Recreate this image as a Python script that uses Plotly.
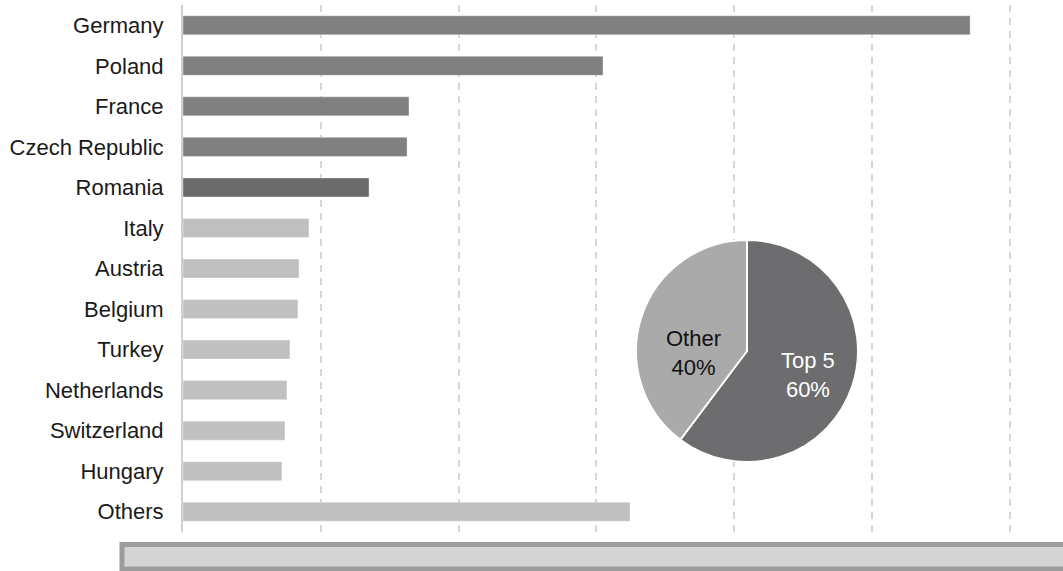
import plotly.graph_objects as go

countries = ["Germany", "Poland", "France", "Czech Republic", "Romania", "Italy",
             "Austria", "Belgium", "Turkey", "Netherlands", "Switzerland", "Hungary", "Others"]
values = [28.56, 15.24, 8.20, 8.13, 6.75, 4.57, 4.21, 4.17, 3.88, 3.77, 3.70, 3.59, 16.22]
bar_colors = ["#808080", "#808080", "#808080", "#808080", "#6b6b6b"] + ["#c0c0c0"] * 8

pie_labels = ["Top 5", "Other"]
pie_values = [sum(values[:5]), sum(values[5:])]
pie_colors = ["#6d6d6f", "#aaaaaa"]
pie_text_colors = ["#ffffff", "#111111"]

W, H = 1063, 571
L, R, T, B = 183, 0, 5, 39
pw, ph = W - L - R, H - T - B
FONT = "Liberation Sans, Arial, sans-serif"

fig = go.Figure()
fig.add_trace(go.Bar(
    y=countries, x=values, orientation="h",
    marker=dict(color=bar_colors, line=dict(color="rgba(255,255,255,0.35)", width=1)),
    width=0.47, hoverinfo="skip", showlegend=False,
))

def px_x(p):
    return (p - L) / pw

def px_y(p):
    return (H - B - p) / ph

fig.add_trace(go.Pie(
    labels=pie_labels, values=pie_values, sort=False, direction="clockwise", rotation=0,
    marker=dict(colors=pie_colors, line=dict(color="white", width=2)),
    textinfo="none",
    domain=dict(x=[px_x(636), px_x(858)], y=[px_y(462), px_y(240)]),
    showlegend=False, hoverinfo="skip",
))

total = sum(pie_values)
label_pos = [(807.5, 374.5), (693.5, 353)]
for lab, val, col, (lx, ly) in zip(pie_labels, pie_values, pie_text_colors, label_pos):
    fig.add_annotation(
        xref="paper", yref="paper", x=px_x(lx), y=px_y(ly),
        text=f"{lab}<br>{100 * val / total:.0f}%", showarrow=False,
        font=dict(family=FONT, size=22, color=col), align="center",
        xanchor="center", yanchor="middle",
    )

fig.add_shape(type="rect", xref="paper", yref="paper",
              x0=px_x(122), x1=px_x(1075), y0=px_y(569), y1=px_y(544.5),
              line=dict(color="#9c9c9c", width=5), fillcolor="#d4d4d4", layer="above")

fig.update_layout(
    width=W, height=H,
    margin=dict(l=L, r=R, t=T, b=B),
    paper_bgcolor="white", plot_bgcolor="white",
    font=dict(family=FONT, size=22, color="#1a1a1a"),
    xaxis=dict(range=[0, 31.93], dtick=5, tick0=0, showticklabels=False,
               showgrid=True, gridcolor="#d6d6d6", gridwidth=1.5, griddash="7px,6px",
               zeroline=False, showline=False, fixedrange=True),
    yaxis=dict(categoryorder="array", categoryarray=countries[::-1],
               showgrid=False, showline=True, linecolor="#d0d0d0", linewidth=2,
               ticks="", ticklabelstandoff=13, zeroline=False, fixedrange=True),
)

fig.write_html(
    "out.html",
    config={"displayModeBar": False},
    post_script="document.body.style.margin='0';document.documentElement.style.overflow='hidden';document.body.style.overflow='hidden';",
)
